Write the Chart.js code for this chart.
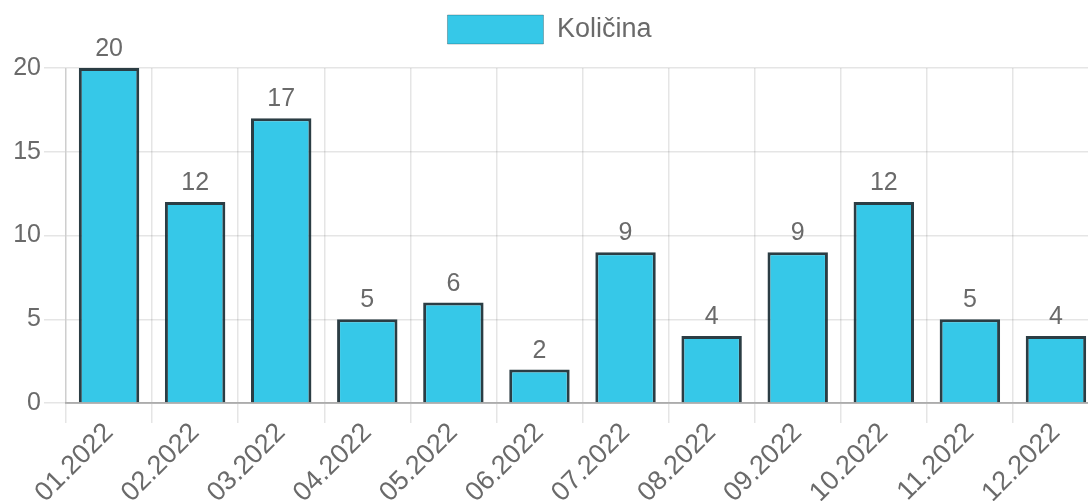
<!DOCTYPE html>
<html>
<head>
<meta charset="utf-8">
<script src="https://cdn.jsdelivr.net/npm/chart.js@4/dist/chart.umd.min.js"></script>
<style>
  html, body { margin: 0; padding: 0; overflow: hidden; background: #fff; }
  #wrap { width: 1100px; height: 501px; }
</style>
</head>
<body>
<div id="wrap"><canvas id="c" width="1100" height="501"></canvas></div>
<script>
const categories = ["01.2022","02.2022","03.2022","04.2022","05.2022","06.2022","07.2022","08.2022","09.2022","10.2022","11.2022","12.2022"];
const seriesName = "Količina";
const values = [20, 12, 17, 5, 6, 2, 9, 4, 9, 12, 5, 4];
const yTicks = [0, 5, 10, 15, 20];

const FONT = "'Liberation Sans', Arial, Helvetica, sans-serif";
const TXT = '#6a6a6a';

const valueLabels = {
  id: 'valueLabels',
  afterDatasetsDraw(chart) {
    const ctx = chart.ctx;
    const meta = chart.getDatasetMeta(0);
    ctx.save();
    ctx.font = '25px ' + FONT;
    ctx.fillStyle = TXT;
    ctx.textAlign = 'center';
    ctx.textBaseline = 'alphabetic';
    meta.data.forEach((el, i) => {
      ctx.fillText(String(chart.data.datasets[0].data[i]), el.x, el.y - 12);
    });
    ctx.restore();
  }
};

const legendMargin = {
  id: 'legendMargin',
  beforeInit(chart) {
    const orig = chart.legend.fit;
    chart.legend.fit = function () {
      orig.call(this);
      this.height += 14;
    };
  }
};

new Chart(document.getElementById('c'), {
  type: 'bar',
  data: {
    labels: categories,
    datasets: [{
      label: seriesName,
      data: values,
      backgroundColor: '#36C8E8',
      borderColor: 'rgba(20,40,48,0.9)',
      borderWidth: 3,
      barPercentage: 0.78,
      categoryPercentage: 0.9
    }]
  },
  options: {
    responsive: false,
    animation: false,
    layout: { padding: { top: 5, left: 0, right: 1, bottom: 0 } },
    plugins: {
      legend: {
        display: true,
        labels: {
          boxWidth: 96,
          boxHeight: 29,
          padding: 10,
          color: TXT,
          font: { size: 27, family: FONT },
          generateLabels(chart) {
            const items = Chart.defaults.plugins.legend.labels.generateLabels(chart);
            items.forEach(it => { it.lineWidth = 1; it.strokeStyle = 'rgba(0,0,0,0.25)'; });
            return items;
          }
        }
      },
      tooltip: { enabled: false }
    },
    scales: {
      x: {
        grid: { color: 'rgba(0,0,0,0.1)', lineWidth: 1.5, tickLength: 20, offset: true },
        border: { color: 'rgba(0,0,0,0.25)', width: 2 },
        ticks: { color: TXT, font: { size: 27, family: FONT }, minRotation: 45, maxRotation: 45, padding: -6 },
        afterFit(scale) { scale.height = 98; }
      },
      y: {
        min: 0, max: 20,
        grid: { color: 'rgba(0,0,0,0.1)', lineWidth: 1.5, tickLength: 22 },
        border: { color: 'rgba(0,0,0,0.1)', width: 1.5 },
        ticks: {
          color: TXT, font: { size: 25, family: FONT }, padding: 3, stepSize: 5,
          callback: (v) => yTicks.includes(v) ? String(v) : ''
        },
        afterFit(scale) { scale.width = 66; }
      }
    }
  },
  plugins: [valueLabels, legendMargin]
});
</script>
</body>
</html>
